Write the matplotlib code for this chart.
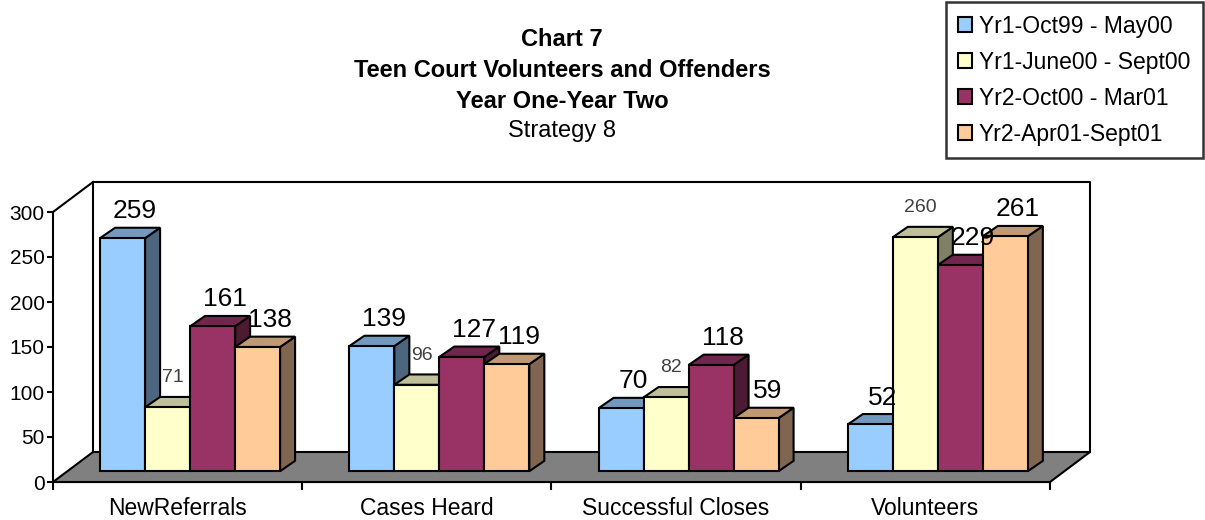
import matplotlib
matplotlib.use('Agg')
from matplotlib import pyplot as plt
from matplotlib.patches import Polygon
from matplotlib.ticker import FixedLocator, NullFormatter, FixedFormatter

plt.rcParams['font.family'] = ['Liberation Sans', 'DejaVu Sans']

categories = ['NewReferrals', 'Cases Heard', 'Successful Closes', 'Volunteers']
series_names = ['Yr1-Oct99 - May00', 'Yr1-June00 - Sept00', 'Yr2-Oct00 - Mar01', 'Yr2-Apr01-Sept01']
oct99_may00 = [259, 139, 70, 52]
june00_sept00 = [71, 96, 82, 260]
oct00_mar01 = [161, 127, 118, 229]
apr01_sept01 = [138, 119, 59, 261]
series = [oct99_may00, june00_sept00, oct00_mar01, apr01_sept01]
yticks = [0, 50, 100, 150, 200, 250, 300]

# front / top / side shades like the old excel 3d look
face = ['#99CCFF', '#FFFFCC', '#993366', '#FFCC99']
top = ['#7399BF', '#BFBF99', '#73264D', '#BF9973']
side = ['#4D6680', '#808066', '#4D1A33', '#806650']
label_color = ['black', '#404040', 'black', 'black']
label_size = [19, 14, 19, 19]

fig = plt.figure(figsize=(12.05, 5.2), dpi=100)
ax = fig.add_axes([53 / 1205, 38 / 520, 997 / 1205, 270 / 520])
ax.set_xlim(0, 4)
ax.set_ylim(0, 300)

# depth of the box (back wall offset) in data units
wx, wy = 40 / 249.25, 30 / 0.9
# bars sit a bit behind the front edge
bx, by = 0.05, 12
# depth of a single bar
dx, dy = 15 / 249.25, 11.5
bw = 45 / 249.25

lw = 1.5
floor = Polygon([(0, 0), (4, 0), (4 + wx, wy), (wx, wy)], closed=True,
                facecolor='#808080', edgecolor='black', lw=lw, clip_on=False, zorder=1)
ax.add_patch(floor)
ax.plot([wx, wx, 4 + wx, 4 + wx], [wy, 300 + wy, 300 + wy, wy], color='black', lw=lw,
        clip_on=False, zorder=1)
ax.plot([0, wx], [300, 300 + wy], color='black', lw=lw, clip_on=False, zorder=1)

z = 2
for i in range(len(categories)):
    left0 = i + 0.5 + bx - 2 * bw
    for k, vals in enumerate(series):
        v = vals[i]
        x0 = left0 + k * bw
        x1 = x0 + bw
        y0 = by
        y1 = by + v
        ax.add_patch(Polygon([(x1, y0), (x1, y1), (x1 + dx, y1 + dy), (x1 + dx, y0 + dy)],
                             facecolor=side[k], edgecolor='black', lw=lw, clip_on=False, zorder=z))
        ax.add_patch(Polygon([(x0, y1), (x1, y1), (x1 + dx, y1 + dy), (x0 + dx, y1 + dy)],
                             facecolor=top[k], edgecolor='black', lw=lw, clip_on=False, zorder=z))
        ax.add_patch(Polygon([(x0, y0), (x1, y0), (x1, y1), (x0, y1)],
                             facecolor=face[k], edgecolor='black', lw=lw, clip_on=False, zorder=z))
        if k == 1:
            lx, off = x0 + bw / 2 + dx * 0.35, 12
        else:
            lx, off = x0 + bw / 2 + dx * 0.8, 5
        ax.text(lx, y1 + dy + off, str(v), ha='center', va='bottom',
                fontsize=label_size[k], color=label_color[k], zorder=20, clip_on=False)
        z += 1

for s in ['top', 'right']:
    ax.spines[s].set_visible(False)
ax.spines['left'].set_linewidth(lw)
ax.spines['bottom'].set_linewidth(lw)
ax.spines['left'].set_zorder(0.5)
ax.spines['bottom'].set_zorder(0.5)
ax.set_yticks(yticks)
ax.tick_params(axis='y', length=4.5, width=lw, pad=1.5, labelsize=15)
ax.xaxis.set_major_locator(FixedLocator([0, 1, 2, 3, 4]))
ax.xaxis.set_major_formatter(NullFormatter())
ax.xaxis.set_minor_locator(FixedLocator([0.5, 1.5, 2.5, 3.5]))
ax.xaxis.set_minor_formatter(FixedFormatter(categories))
ax.tick_params(axis='x', which='major', length=6, width=lw)
ax.tick_params(axis='x', which='minor', length=0, pad=11, labelsize=16.5)
ax.patch.set_alpha(0)

cx = 562 / 1205
fig.text(cx, 1 - 46 / 520, 'Chart 7', ha='center', va='baseline', fontsize=17, fontweight='bold')
fig.text(cx, 1 - 77 / 520, 'Teen Court Volunteers and Offenders', ha='center', va='baseline',
         fontsize=17, fontweight='bold')
fig.text(cx, 1 - 108 / 520, 'Year One-Year Two', ha='center', va='baseline', fontsize=17,
         fontweight='bold')
fig.text(cx, 1 - 137 / 520, 'Strategy 8', ha='center', va='baseline', fontsize=17)

handles = [Polygon([(0, 0), (1, 0), (1, 1)], facecolor=face[k], edgecolor='black', lw=1.5)
           for k in range(4)]
leg = fig.legend(handles, series_names, loc='upper right',
                 bbox_to_anchor=(1203 / 1205, 1 - 2 / 520), fontsize=16.5, frameon=True,
                 fancybox=False, edgecolor='black', handlelength=0.6, handleheight=0.6,
                 handletextpad=0.3, labelspacing=0.57, borderpad=0.55, borderaxespad=0)
leg.get_frame().set_linewidth(1.8)

fig.savefig('out.png', dpi=100)
